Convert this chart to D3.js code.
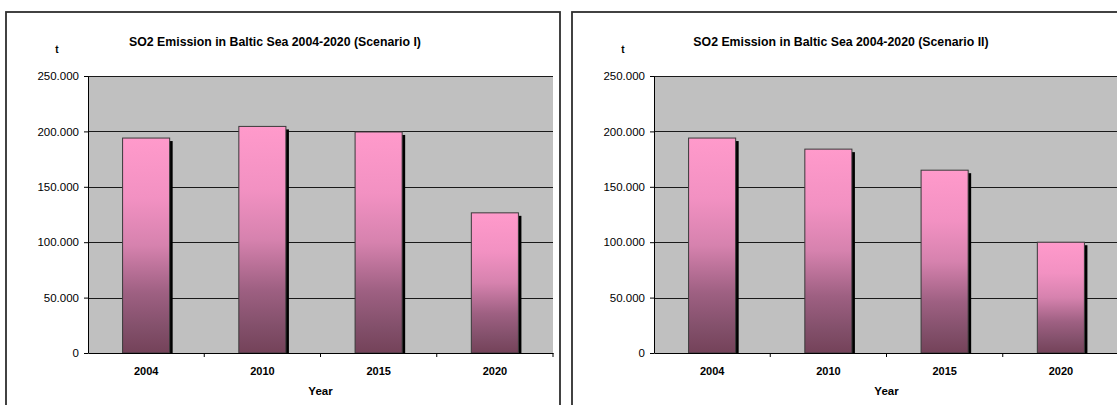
<!DOCTYPE html>
<html>
<head>
<meta charset="utf-8">
<script src="https://cdn.jsdelivr.net/npm/d3@7"></script>
<style>
  html, body { margin: 0; padding: 0; background: #fff; }
  svg { display: block; font-family: "Liberation Sans", Arial, Helvetica, sans-serif; }
</style>
</head>
<body>
<svg id="chart" width="1117" height="405"></svg>
<script>
// Emission data (tonnes of SO2) per scenario
const years = ["2004", "2010", "2015", "2020"];
const scenarioI = [194000, 204500, 199500, 126500];
const scenarioII = [194000, 184000, 165000, 100000];
const yTicks = [0, 50000, 100000, 150000, 200000, 250000];
const titles = [
  "SO2 Emission in Baltic Sea 2004-2020 (Scenario I)",
  "SO2 Emission in Baltic Sea 2004-2020 (Scenario II)"
];
const yUnit = "t";
const xTitle = "Year";

const svg = d3.select("#chart");

// Shared vertical gradient for the bars
const defs = svg.append("defs");
const grad = defs.append("linearGradient")
  .attr("id", "barGrad").attr("x1", 0).attr("y1", 0).attr("x2", 0).attr("y2", 1);
[[0, "#ff9acb"], [0.28, "#f291c2"], [0.5, "#d682ae"], [0.72, "#9e6082"], [0.88, "#83506b"], [1, "#744259"]]
  .forEach(([o, c]) => grad.append("stop").attr("offset", o).attr("stop-color", c));

const fmt = d => d3.format(",")(d).replace(/,/g, ".");

function drawPanel(frameX, values, title) {
  const frameW = 554;
  const plotL = frameX + 82, plotW = 465, plotT = 76, plotB = 353;

  const g = svg.append("g");

  // chart frame
  g.append("rect")
    .attr("x", frameX).attr("y", 12)
    .attr("width", frameW).attr("height", 420)
    .attr("fill", "#fff").attr("stroke", "#2e2e2e").attr("stroke-width", 1.8);

  const x = d3.scaleBand().domain(years).range([plotL, plotL + plotW]);
  const y = d3.scaleLinear().domain([0, 250000]).range([plotB, plotT]);

  // plot area background
  g.append("rect")
    .attr("x", plotL).attr("y", plotT)
    .attr("width", plotW).attr("height", plotB - plotT)
    .attr("fill", "#c0c0c0");

  // gridlines
  g.append("g").selectAll("line")
    .data(yTicks.filter(d => d > 0))
    .join("line")
    .attr("x1", plotL).attr("x2", plotL + plotW)
    .attr("y1", d => Math.round(y(d)) + 0.5).attr("y2", d => Math.round(y(d)) + 0.5)
    .attr("stroke", "#1a1a1a").attr("stroke-width", 1);

  const bw = x.bandwidth() * 0.405;
  const bx = d => x(d) + (x.bandwidth() - bw) / 2;

  const bars = g.append("g").selectAll("g")
    .data(years.map((yr, i) => ({ yr, v: values[i] })))
    .join("g");

  // drop shadow
  bars.append("rect")
    .attr("x", d => bx(d.yr) + 3).attr("y", d => y(d.v) + 3)
    .attr("width", bw).attr("height", d => plotB - y(d.v) - 3)
    .attr("fill", "#000");

  bars.append("rect")
    .attr("x", d => bx(d.yr)).attr("y", d => y(d.v))
    .attr("width", bw).attr("height", d => plotB - y(d.v))
    .attr("fill", "url(#barGrad)")
    .attr("stroke", "#3a3a3a").attr("stroke-width", 1);

  // y axis
  const yAxis = g.append("g")
    .attr("transform", `translate(${plotL},0)`)
    .call(d3.axisLeft(y).tickValues(yTicks).tickFormat(fmt).tickSize(4).tickPadding(5).tickSizeOuter(0));
  yAxis.selectAll("text").attr("font-size", 11.5).attr("fill", "#000")
    .attr("font-family", "'Liberation Sans', Arial, sans-serif");
  yAxis.selectAll("line, path").attr("stroke", "#000");

  // x axis: labels centred on categories, ticks at category boundaries
  const xAxis = g.append("g")
    .attr("transform", `translate(0,${plotB})`)
    .call(d3.axisBottom(x).tickSize(0).tickPadding(14).tickSizeOuter(0));
  xAxis.selectAll("text").attr("font-size", 11).attr("font-weight", "bold").attr("fill", "#000")
    .attr("font-family", "'Liberation Sans', Arial, sans-serif");
  xAxis.select("path").attr("stroke", "#000");
  xAxis.selectAll(".boundary")
    .data(years.slice(1).map(yr => x(yr)).concat([plotL + plotW]))
    .join("line").attr("class", "boundary")
    .attr("x1", d => d).attr("x2", d => d)
    .attr("y1", 0).attr("y2", 4)
    .attr("stroke", "#000");

  // titles
  g.append("text")
    .attr("x", frameX + 269).attr("y", 46)
    .attr("text-anchor", "middle")
    .attr("font-size", 12.3).attr("font-weight", "bold")
    .text(title);

  g.append("text")
    .attr("x", frameX + 51).attr("y", 53)
    .attr("text-anchor", "middle")
    .attr("font-size", 10).attr("font-weight", "bold")
    .text(yUnit);

  g.append("text")
    .attr("x", plotL + plotW / 2).attr("y", 395)
    .attr("text-anchor", "middle")
    .attr("font-size", 11.5).attr("font-weight", "bold")
    .text(xTitle);
}

drawPanel(6, scenarioI, titles[0]);
drawPanel(572, scenarioII, titles[1]);
</script>
</body>
</html>
